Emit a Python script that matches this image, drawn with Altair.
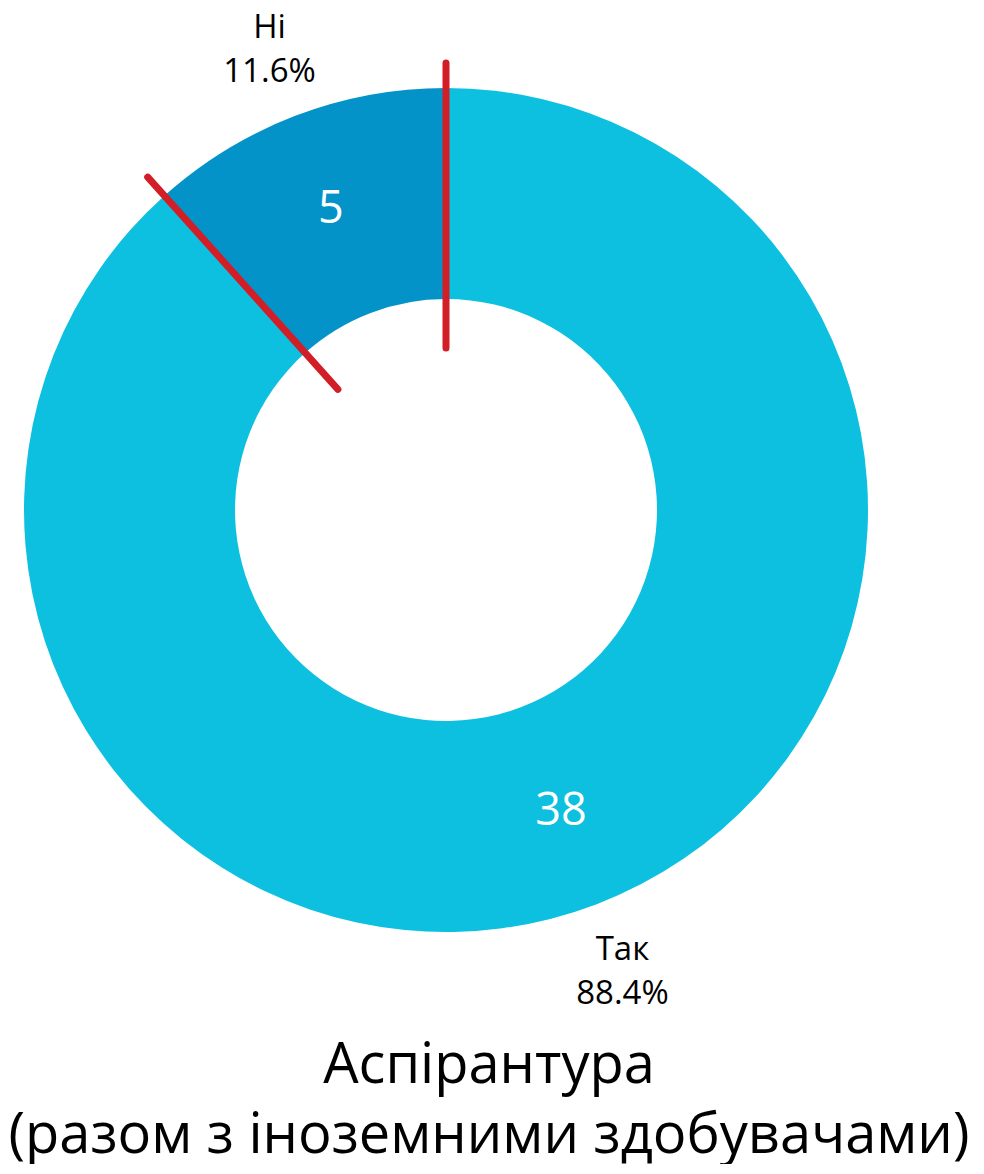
import altair as alt
import pandas as pd

# Data
labels = ["Так", "Ні"]
counts = [38, 5]
percents = ["88.4%", "11.6%"]
colors = ["#0DC0E0", "#0393C8"]
title_lines = ["Аспірантура", "(разом з іноземними здобувачами)"]

df = pd.DataFrame({
    "label": labels,
    "count": counts,
    "pct": percents,
    "order": list(range(len(labels))),
})
df["outer"] = df["label"] + "\n" + df["pct"]

# boundaries of the "Ні" slice (hand-drawn red strokes in the reference)
boundaries = pd.DataFrame({"b": [0, counts[0]]})

base = alt.Chart(df).encode(
    theta=alt.Theta("count:Q", stack=True),
    order=alt.Order("order:Q"),
    detail="label:N",
)

arcs = base.mark_arc(innerRadius=211, outerRadius=422).encode(
    color=alt.Color("label:N", scale=alt.Scale(domain=labels, range=colors), legend=None)
)

inner_text = base.mark_text(
    radius=322, fontSize=45, font="Open Sans", fontWeight=500, color="white"
).encode(text="count:Q")

outer_text = base.mark_text(
    radius=494, fontSize=33, font="Open Sans", color="black",
    lineBreak="\n", lineHeight=44, dy=-21,
).encode(text="outer:N")

strokes = alt.Chart(boundaries).mark_arc(
    radius=447, radius2=162, filled=False, color="#D21E27",
    strokeWidth=7, strokeCap="round", strokeJoin="round",
).encode(
    theta=alt.Theta("b:Q", stack=None),
    theta2="b:Q",
)

chart = alt.layer(arcs, strokes, inner_text, outer_text).properties(
    width=868,
    height=1004,
    padding=0,
    title=alt.TitleParams(
        text=title_lines,
        orient="bottom",
        anchor="middle",
        fontSize=56,
        font="Open Sans",
        fontWeight="normal",
        lineHeight=70,
        color="black",
        dx=43,
        offset=27,
    ),
).configure_view(strokeWidth=0)

chart.save("out.html", embed_options={"renderer": "svg", "actions": False})
